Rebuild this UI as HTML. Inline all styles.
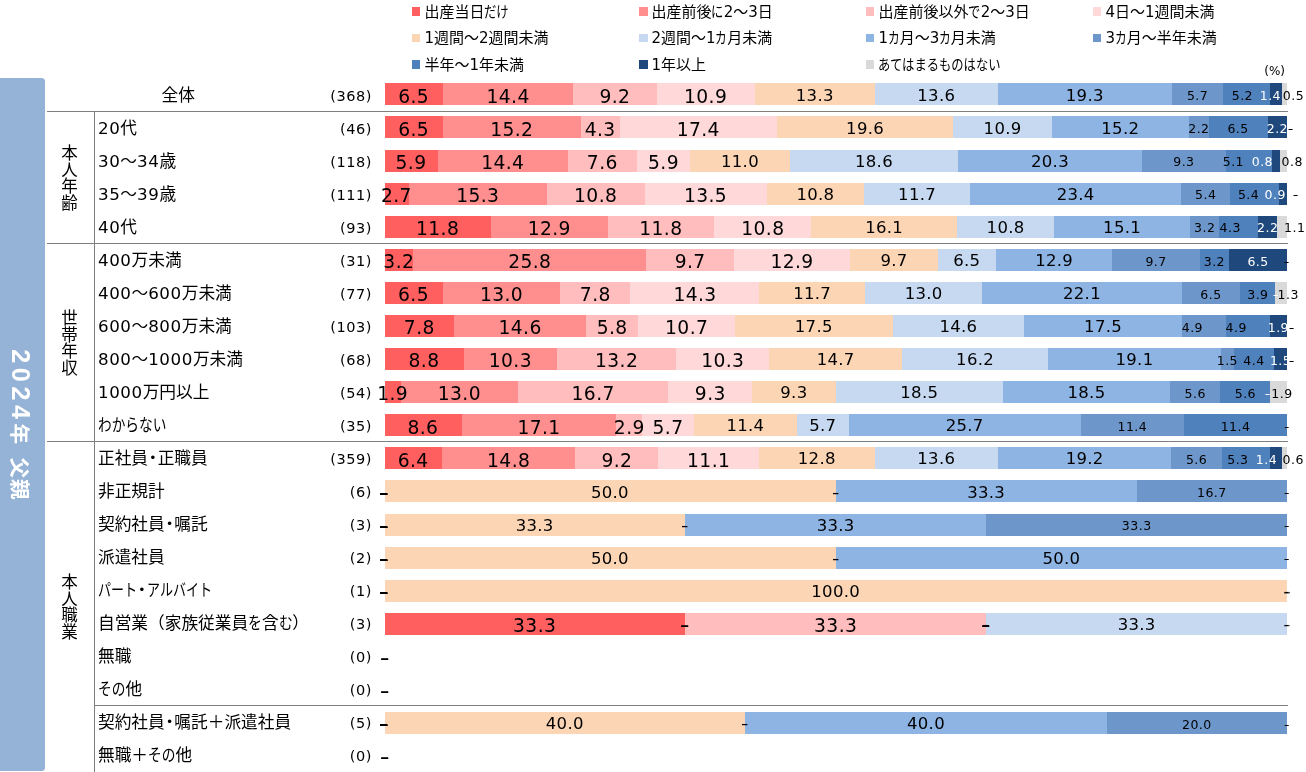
<!DOCTYPE html>
<html lang="ja"><head><meta charset="utf-8"><title>2024年 父親</title>
<style>
html,body{margin:0;padding:0;background:#fff}
#c{position:relative;width:1306px;height:772px;overflow:hidden;background:#fff;font-family:"DejaVu Sans","Liberation Sans","Noto Sans CJK JP",sans-serif;color:#000}
#c>*{position:absolute;white-space:nowrap;line-height:1}
.s{height:22px}
.l{transform:translate(-50%,-50%)}
.w{color:#fff}
.ds{transform:translate(-50%,-50%) scaleX(1.25)}
.dh{transform:translate(-50%,-50%) scaleX(1.4);text-shadow:0 .6px 0 #000}
.db{transform:translate(-50%,-50%) scaleX(1.4);text-shadow:0 .5px 0 #000}
.hl{height:1px;background:#7f7f7f}
.vl{width:1px;background:#7f7f7f}
.rl{left:98px;font-size:16.7px;transform:translateY(-50%);font-family:"DejaVu Sans","Noto Sans CJK JP",sans-serif}
.n{right:934px;font-size:14.5px;letter-spacing:.55px;transform:translateY(-50%)}
.g{font-size:16.5px;line-height:16.7px !important;width:17px;text-align:center;white-space:normal !important;transform:translate(-50%,-50%);font-family:"Noto Sans CJK JP",sans-serif}
.lg{font-size:15px;transform:translateY(-50%);font-family:"DejaVu Sans","Noto Sans CJK JP",sans-serif}
.lm{width:8px;height:8px}
.d{display:inline-block}
.k{display:inline-block;transform:scaleX(.78);transform-origin:0 50%}
.dg{letter-spacing:.55px}


.c0{background:#FF5F5F}
.c1{background:#FF8F8F}
.c2{background:#FFBDBD}
.c3{background:#FFD9D9}
.c4{background:#FCD5B4}
.c5{background:#C6D9F1}
.c6{background:#8EB4E3}
.c7{background:#6D97CB}
.c8{background:#4F81BD}
.c9{background:#1F497D}
.c10{background:#D9D9D9}
.f0{font-size:18.7px;letter-spacing:.4px}.f1{font-size:16.5px;letter-spacing:.3px}.f2{font-size:12.5px;letter-spacing:.5px}
</style></head><body><div id="c">
<div style="left:0;top:78px;width:45px;height:693px;background:#95B3D7;border-radius:0 3.5px 3.5px 0"></div>
<div id="ttl" style="left:20px;top:425.3px;word-spacing:5.2px;color:#fff;font-weight:bold;font-family:'Liberation Sans','Noto Sans CJK JP',sans-serif;font-size:20.5px;letter-spacing:1.2px;transform:translate(-50%,-50%) rotate(90deg)"><span class="d" style="font-size:25px;letter-spacing:4.7px">2024</span>年 父親</div>
<div class="hl" style="left:47px;top:111px;width:1241px"></div>
<div class="hl" style="left:47px;top:243px;width:1241px"></div>
<div class="hl" style="left:47px;top:441px;width:1241px"></div>
<div class="hl" style="left:94px;top:705px;width:1194px"></div>
<div class="vl" style="left:94px;top:111px;height:661px"></div>
<div class="g" style="left:69.5px;top:177px">本人年齢</div>
<div class="g" style="left:69.5px;top:342px">世帯年収</div>
<div class="g" style="left:69.5px;top:606px">本人職業</div>
<div class="lm c0" style="left:412px;top:7px;width:8px;height:9px"></div><div class="lg" style="left:424.4px;top:12px">出産当日<span class="k" style="width:24.6px;transform:scaleX(0.82)">だけ</span></div>
<div class="lm c1" style="left:639px;top:7px;width:9px;height:9px"></div><div class="lg" style="left:651.4px;top:12px">出産前後<span class="k" style="width:12.3px;transform:scaleX(0.82)">に</span>2～3日</div>
<div class="lm c2" style="left:866px;top:7px;width:8px;height:9px"></div><div class="lg" style="left:878.4px;top:12px">出産前後以外<span class="k" style="width:12.3px;transform:scaleX(0.82)">で</span>2～3日</div>
<div class="lm c3" style="left:1093px;top:7px;width:8px;height:9px"></div><div class="lg" style="left:1105.4px;top:12px">4日～1週間未満</div>
<div class="lm c4" style="left:412px;top:34px;width:8px;height:8px"></div><div class="lg" style="left:424.4px;top:38.3px">1週間～2週間未満</div>
<div class="lm c5" style="left:639px;top:34px;width:9px;height:8px"></div><div class="lg" style="left:651.4px;top:38.3px">2週間～1<span class="k" style="width:11.7px;transform:scaleX(0.78)">カ</span>月未満</div>
<div class="lm c6" style="left:866px;top:34px;width:8px;height:8px"></div><div class="lg" style="left:878.4px;top:38.3px">1<span class="k" style="width:11.7px;transform:scaleX(0.78)">カ</span>月～3<span class="k" style="width:11.7px;transform:scaleX(0.78)">カ</span>月未満</div>
<div class="lm c7" style="left:1093px;top:34px;width:8px;height:8px"></div><div class="lg" style="left:1105.4px;top:38.3px">3<span class="k" style="width:11.7px;transform:scaleX(0.78)">カ</span>月～半年未満</div>
<div class="lm c8" style="left:412px;top:60px;width:8px;height:9px"></div><div class="lg" style="left:424.4px;top:64.6px">半年～1年未満</div>
<div class="lm c9" style="left:639px;top:60px;width:9px;height:9px"></div><div class="lg" style="left:651.4px;top:64.6px">1年以上</div>
<div class="lm c10" style="left:866px;top:60px;width:8px;height:9px"></div><div class="lg" style="left:878.4px;top:64.6px"><span class="k" style="width:123.0px;transform:scaleX(0.82)">あてはまるものはない</span></div>
<div style="left:1274.6px;top:71.4px;font-size:12px;transform:translate(-50%,-50%)">(%)</div>
<div class="rl" style="left:161.5px;top:94.9px">全体</div>
<div class="n" style="top:95.55px">(368)</div>
<div class="s c0" style="left:385px;top:83px;width:58px"></div>
<div class="s c1" style="left:443px;top:83px;width:130px"></div>
<div class="s c2" style="left:573px;top:83px;width:84px"></div>
<div class="s c3" style="left:657px;top:83px;width:98px"></div>
<div class="s c4" style="left:755px;top:83px;width:120px"></div>
<div class="s c5" style="left:875px;top:83px;width:123px"></div>
<div class="s c6" style="left:998px;top:83px;width:174px"></div>
<div class="s c7" style="left:1172px;top:83px;width:51px"></div>
<div class="s c8" style="left:1223px;top:83px;width:47px"></div>
<div class="s c9" style="left:1270px;top:83px;width:12px"></div>
<div class="s c10" style="left:1282px;top:83px;width:5px"></div>
<div class="l f0" style="left:413.6px;top:96.7px">6.5</div>
<div class="l f0" style="left:508.1px;top:96.7px">14.4</div>
<div class="l f0" style="left:614.9px;top:96.7px">9.2</div>
<div class="l f0" style="left:705.6px;top:96.7px">10.9</div>
<div class="l f1" style="left:814.8px;top:95.5px">13.3</div>
<div class="l f1" style="left:936.3px;top:95.5px">13.6</div>
<div class="l f1" style="left:1084.8px;top:95.5px">19.3</div>
<div class="l f2" style="left:1197.6px;top:96.1px">5.7</div>
<div class="l f2" style="left:1242.4px;top:96.1px">5.2</div>
<div class="l f2 w" style="left:1270.4px;top:96.1px">1.4</div>
<div class="l f2" style="left:1293.5px;top:96.1px">0.5</div>
<div class="rl" style="top:127.95px"><span class="dg">20</span>代</div>
<div class="n" style="top:128.55px">(46)</div>
<div class="s c0" style="left:385px;top:116px;width:58px"></div>
<div class="s c1" style="left:443px;top:116px;width:138px"></div>
<div class="s c2" style="left:581px;top:116px;width:39px"></div>
<div class="s c3" style="left:620px;top:116px;width:157px"></div>
<div class="s c4" style="left:777px;top:116px;width:176px"></div>
<div class="s c5" style="left:953px;top:116px;width:99px"></div>
<div class="s c6" style="left:1052px;top:116px;width:137px"></div>
<div class="s c7" style="left:1189px;top:116px;width:20px"></div>
<div class="s c8" style="left:1209px;top:116px;width:59px"></div>
<div class="s c9" style="left:1268px;top:116px;width:19px"></div>
<div class="l f0" style="left:413.6px;top:129.8px">6.5</div>
<div class="l f0" style="left:511.8px;top:129.8px">15.2</div>
<div class="l f0" style="left:600.1px;top:129.8px">4.3</div>
<div class="l f0" style="left:698.3px;top:129.8px">17.4</div>
<div class="l f1" style="left:865.1px;top:128.6px">19.6</div>
<div class="l f1" style="left:1002.6px;top:128.6px">10.9</div>
<div class="l f1" style="left:1120.3px;top:128.6px">15.2</div>
<div class="l f2" style="left:1198.9px;top:129.2px">2.2</div>
<div class="l f2" style="left:1238.1px;top:129.2px">6.5</div>
<div class="l f2 w" style="left:1277.4px;top:129.2px">2.2</div>
<div class="l f2 ds" style="left:1290.7px;top:129.2px">-</div>
<div class="rl" style="top:160.95px"><span class="dg">30</span>～<span class="dg">34</span>歳</div>
<div class="n" style="top:161.55px">(118)</div>
<div class="s c0" style="left:385px;top:150px;width:53px"></div>
<div class="s c1" style="left:438px;top:150px;width:130px"></div>
<div class="s c2" style="left:568px;top:150px;width:69px"></div>
<div class="s c3" style="left:637px;top:150px;width:53px"></div>
<div class="s c4" style="left:690px;top:150px;width:100px"></div>
<div class="s c5" style="left:790px;top:150px;width:168px"></div>
<div class="s c6" style="left:958px;top:150px;width:184px"></div>
<div class="s c7" style="left:1142px;top:150px;width:84px"></div>
<div class="s c8" style="left:1226px;top:150px;width:46px"></div>
<div class="s c9" style="left:1272px;top:150px;width:8px"></div>
<div class="s c10" style="left:1280px;top:150px;width:7px"></div>
<div class="l f0" style="left:411px;top:162.9px">5.9</div>
<div class="l f0" style="left:502.8px;top:162.9px">14.4</div>
<div class="l f0" style="left:602.3px;top:162.9px">7.6</div>
<div class="l f0" style="left:663.5px;top:162.9px">5.9</div>
<div class="l f1" style="left:740px;top:161.7px">11.0</div>
<div class="l f1" style="left:874px;top:161.7px">18.6</div>
<div class="l f1" style="left:1050px;top:161.7px">20.3</div>
<div class="l f2" style="left:1183.9px;top:162.3px">9.3</div>
<div class="l f2" style="left:1233.4px;top:162.3px">5.1</div>
<div class="l f2 w" style="left:1262.4px;top:162.3px">0.8</div>
<div class="l f2" style="left:1292.2px;top:162.3px">0.8</div>
<div class="rl" style="top:193.95px"><span class="dg">35</span>～<span class="dg">39</span>歳</div>
<div class="n" style="top:194.55px">(111)</div>
<div class="s c0" style="left:385px;top:183px;width:24px"></div>
<div class="s c1" style="left:409px;top:183px;width:138px"></div>
<div class="s c2" style="left:547px;top:183px;width:98px"></div>
<div class="s c3" style="left:645px;top:183px;width:122px"></div>
<div class="s c4" style="left:767px;top:183px;width:97px"></div>
<div class="s c5" style="left:864px;top:183px;width:106px"></div>
<div class="s c6" style="left:970px;top:183px;width:211px"></div>
<div class="s c7" style="left:1181px;top:183px;width:49px"></div>
<div class="s c8" style="left:1230px;top:183px;width:49px"></div>
<div class="s c9" style="left:1279px;top:183px;width:8px"></div>
<div class="l f0" style="left:396.4px;top:195.9px">2.7</div>
<div class="l f0" style="left:477.8px;top:195.9px">15.3</div>
<div class="l f0" style="left:595.7px;top:195.9px">10.8</div>
<div class="l f0" style="left:705.5px;top:195.9px">13.5</div>
<div class="l f1" style="left:815.4px;top:194.7px">10.8</div>
<div class="l f1" style="left:917.1px;top:194.7px">11.7</div>
<div class="l f1" style="left:1075.7px;top:194.7px">23.4</div>
<div class="l f2" style="left:1205.8px;top:195.3px">5.4</div>
<div class="l f2" style="left:1248.6px;top:195.3px">5.4</div>
<div class="l f2 w" style="left:1275.3px;top:195.3px">0.9</div>
<div class="l f2 ds" style="left:1296.2px;top:195.3px">-</div>
<div class="rl" style="top:226.95px"><span class="dg">40</span>代</div>
<div class="n" style="top:227.55px">(93)</div>
<div class="s c0" style="left:385px;top:216px;width:106px"></div>
<div class="s c1" style="left:491px;top:216px;width:117px"></div>
<div class="s c2" style="left:608px;top:216px;width:106px"></div>
<div class="s c3" style="left:714px;top:216px;width:97px"></div>
<div class="s c4" style="left:811px;top:216px;width:146px"></div>
<div class="s c5" style="left:957px;top:216px;width:97px"></div>
<div class="s c6" style="left:1054px;top:216px;width:136px"></div>
<div class="s c7" style="left:1190px;top:216px;width:29px"></div>
<div class="s c8" style="left:1219px;top:216px;width:39px"></div>
<div class="s c9" style="left:1258px;top:216px;width:19px"></div>
<div class="s c10" style="left:1277px;top:216px;width:10px"></div>
<div class="l f0" style="left:437.6px;top:229px">11.8</div>
<div class="l f0" style="left:549.3px;top:229px">12.9</div>
<div class="l f0" style="left:660.9px;top:229px">11.8</div>
<div class="l f0" style="left:762.9px;top:229px">10.8</div>
<div class="l f1" style="left:884.2px;top:227.8px">16.1</div>
<div class="l f1" style="left:1005.6px;top:227.8px">10.8</div>
<div class="l f1" style="left:1122.1px;top:227.8px">15.1</div>
<div class="l f2" style="left:1204.7px;top:228.4px">3.2</div>
<div class="l f2" style="left:1230.3px;top:228.4px">4.3</div>
<div class="l f2 w" style="left:1267.8px;top:228.4px">2.2</div>
<div class="l f2" style="left:1294.8px;top:228.4px">1.1</div>
<div class="rl" style="top:259.95px"><span class="dg">400</span>万未満</div>
<div class="n" style="top:260.55px">(31)</div>
<div class="s c0" style="left:385px;top:249px;width:28px"></div>
<div class="s c1" style="left:413px;top:249px;width:233px"></div>
<div class="s c2" style="left:646px;top:249px;width:88px"></div>
<div class="s c3" style="left:734px;top:249px;width:116px"></div>
<div class="s c4" style="left:850px;top:249px;width:88px"></div>
<div class="s c5" style="left:938px;top:249px;width:58px"></div>
<div class="s c6" style="left:996px;top:249px;width:116px"></div>
<div class="s c7" style="left:1112px;top:249px;width:88px"></div>
<div class="s c8" style="left:1200px;top:249px;width:29px"></div>
<div class="s c9" style="left:1229px;top:249px;width:58px"></div>
<div class="l f0" style="left:398.8px;top:262.1px">3.2</div>
<div class="l f0" style="left:529.8px;top:262.1px">25.8</div>
<div class="l f0" style="left:690.1px;top:262.1px">9.7</div>
<div class="l f0" style="left:792px;top:262.1px">12.9</div>
<div class="l f1" style="left:894px;top:260.9px">9.7</div>
<div class="l f1" style="left:966.8px;top:260.9px">6.5</div>
<div class="l f1" style="left:1054.2px;top:260.9px">12.9</div>
<div class="l f2" style="left:1156.1px;top:261.5px">9.7</div>
<div class="l f2" style="left:1214.4px;top:261.5px">3.2</div>
<div class="l f2 w" style="left:1258.1px;top:261.5px">6.5</div>
<div class="l f2 ds" style="left:1287.2px;top:261.5px">-</div>
<div class="rl" style="top:292.95px"><span class="dg">400</span>～<span class="dg">600</span>万未満</div>
<div class="n" style="top:293.55px">(77)</div>
<div class="s c0" style="left:385px;top:282px;width:58px"></div>
<div class="s c1" style="left:443px;top:282px;width:117px"></div>
<div class="s c2" style="left:560px;top:282px;width:70px"></div>
<div class="s c3" style="left:630px;top:282px;width:129px"></div>
<div class="s c4" style="left:759px;top:282px;width:106px"></div>
<div class="s c5" style="left:865px;top:282px;width:117px"></div>
<div class="s c6" style="left:982px;top:282px;width:200px"></div>
<div class="s c7" style="left:1182px;top:282px;width:58px"></div>
<div class="s c8" style="left:1240px;top:282px;width:35px"></div>
<div class="s c10" style="left:1275px;top:282px;width:12px"></div>
<div class="l f0" style="left:413.5px;top:295.2px">6.5</div>
<div class="l f0" style="left:501.5px;top:295.2px">13.0</div>
<div class="l f0" style="left:595.3px;top:295.2px">7.8</div>
<div class="l f0" style="left:695px;top:295.2px">14.3</div>
<div class="l f1" style="left:812.2px;top:294px">11.7</div>
<div class="l f1" style="left:923.7px;top:294px">13.0</div>
<div class="l f1" style="left:1082px;top:294px">22.1</div>
<div class="l f2" style="left:1211px;top:294.6px">6.5</div>
<div class="l f2" style="left:1257.9px;top:294.6px">3.9</div>
<div class="l f2 w ds" style="left:1275.5px;top:294.6px">-</div>
<div class="l f2" style="left:1288.3px;top:294.6px">1.3</div>
<div class="rl" style="top:325.95px"><span class="dg">600</span>～<span class="dg">800</span>万未満</div>
<div class="n" style="top:326.55px">(103)</div>
<div class="s c0" style="left:385px;top:315px;width:69px"></div>
<div class="s c1" style="left:454px;top:315px;width:132px"></div>
<div class="s c2" style="left:586px;top:315px;width:52px"></div>
<div class="s c3" style="left:638px;top:315px;width:97px"></div>
<div class="s c4" style="left:735px;top:315px;width:158px"></div>
<div class="s c5" style="left:893px;top:315px;width:131px"></div>
<div class="s c6" style="left:1024px;top:315px;width:158px"></div>
<div class="s c7" style="left:1182px;top:315px;width:44px"></div>
<div class="s c8" style="left:1226px;top:315px;width:44px"></div>
<div class="s c9" style="left:1270px;top:315px;width:17px"></div>
<div class="l f0" style="left:419.3px;top:328.3px">7.8</div>
<div class="l f0" style="left:520.1px;top:328.3px">14.6</div>
<div class="l f0" style="left:612.1px;top:328.3px">5.8</div>
<div class="l f0" style="left:686.7px;top:328.3px">10.7</div>
<div class="l f1" style="left:813.8px;top:327.1px">17.5</div>
<div class="l f1" style="left:958.4px;top:327.1px">14.6</div>
<div class="l f1" style="left:1103.1px;top:327.1px">17.5</div>
<div class="l f2" style="left:1192.4px;top:327.7px">4.9</div>
<div class="l f2" style="left:1236.2px;top:327.7px">4.9</div>
<div class="l f2 w" style="left:1278.4px;top:327.7px">1.9</div>
<div class="l f2 ds" style="left:1292.4px;top:327.7px">-</div>
<div class="rl" style="top:358.95px"><span class="dg">800</span>～<span class="dg">1000</span>万未満</div>
<div class="n" style="top:359.55px">(68)</div>
<div class="s c0" style="left:385px;top:348px;width:79px"></div>
<div class="s c1" style="left:464px;top:348px;width:93px"></div>
<div class="s c2" style="left:557px;top:348px;width:119px"></div>
<div class="s c3" style="left:676px;top:348px;width:93px"></div>
<div class="s c4" style="left:769px;top:348px;width:133px"></div>
<div class="s c5" style="left:902px;top:348px;width:146px"></div>
<div class="s c6" style="left:1048px;top:348px;width:173px"></div>
<div class="s c7" style="left:1221px;top:348px;width:13px"></div>
<div class="s c8" style="left:1234px;top:348px;width:40px"></div>
<div class="s c9" style="left:1274px;top:348px;width:13px"></div>
<div class="l f0" style="left:424px;top:361.3px">8.8</div>
<div class="l f0" style="left:510.4px;top:361.3px">10.3</div>
<div class="l f0" style="left:616.6px;top:361.3px">13.2</div>
<div class="l f0" style="left:722.8px;top:361.3px">10.3</div>
<div class="l f1" style="left:835.7px;top:360.1px">14.7</div>
<div class="l f1" style="left:975.1px;top:360.1px">16.2</div>
<div class="l f1" style="left:1134.5px;top:360.1px">19.1</div>
<div class="l f2" style="left:1227.4px;top:360.7px">1.5</div>
<div class="l f2" style="left:1254px;top:360.7px">4.4</div>
<div class="l f2 w" style="left:1280.6px;top:360.7px">1.5</div>
<div class="l f2 ds" style="left:1292.4px;top:360.7px">-</div>
<div class="rl" style="top:391.95px"><span class="dg">1000</span>万円以上</div>
<div class="n" style="top:392.55px">(54)</div>
<div class="s c0" style="left:385px;top:381px;width:16px"></div>
<div class="s c1" style="left:401px;top:381px;width:117px"></div>
<div class="s c2" style="left:518px;top:381px;width:150px"></div>
<div class="s c3" style="left:668px;top:381px;width:84px"></div>
<div class="s c4" style="left:752px;top:381px;width:84px"></div>
<div class="s c5" style="left:836px;top:381px;width:167px"></div>
<div class="s c6" style="left:1003px;top:381px;width:167px"></div>
<div class="s c7" style="left:1170px;top:381px;width:50px"></div>
<div class="s c8" style="left:1220px;top:381px;width:50px"></div>
<div class="s c10" style="left:1270px;top:381px;width:17px"></div>
<div class="l f0" style="left:392.6px;top:394.4px">1.9</div>
<div class="l f0" style="left:459.4px;top:394.4px">13.0</div>
<div class="l f0" style="left:593.2px;top:394.4px">16.7</div>
<div class="l f0" style="left:710.3px;top:394.4px">9.3</div>
<div class="l f1" style="left:793.9px;top:393.2px">9.3</div>
<div class="l f1" style="left:919.3px;top:393.2px">18.5</div>
<div class="l f1" style="left:1086.5px;top:393.2px">18.5</div>
<div class="l f2" style="left:1195.2px;top:393.8px">5.6</div>
<div class="l f2" style="left:1245.4px;top:393.8px">5.6</div>
<div class="l f2 w ds" style="left:1268px;top:393.8px">-</div>
<div class="l f2" style="left:1282px;top:393.8px">1.9</div>
<div class="rl" style="top:424.95px"><span class="k" style="width:68.5px;transform:scaleX(0.82)">わからない</span></div>
<div class="n" style="top:425.55px">(35)</div>
<div class="s c0" style="left:385px;top:414px;width:77px"></div>
<div class="s c1" style="left:462px;top:414px;width:154px"></div>
<div class="s c2" style="left:616px;top:414px;width:26px"></div>
<div class="s c3" style="left:642px;top:414px;width:52px"></div>
<div class="s c4" style="left:694px;top:414px;width:103px"></div>
<div class="s c5" style="left:797px;top:414px;width:52px"></div>
<div class="s c6" style="left:849px;top:414px;width:232px"></div>
<div class="s c7" style="left:1081px;top:414px;width:103px"></div>
<div class="s c8" style="left:1184px;top:414px;width:103px"></div>
<div class="l f0" style="left:422.9px;top:427.5px">8.6</div>
<div class="l f0" style="left:539px;top:427.5px">17.1</div>
<div class="l f0" style="left:629.3px;top:427.5px">2.9</div>
<div class="l f0" style="left:668px;top:427.5px">5.7</div>
<div class="l f1" style="left:745.4px;top:426.3px">11.4</div>
<div class="l f1" style="left:822.8px;top:426.3px">5.7</div>
<div class="l f1" style="left:964.7px;top:426.3px">25.7</div>
<div class="l f2" style="left:1132.4px;top:426.9px">11.4</div>
<div class="l f2" style="left:1235.6px;top:426.9px">11.4</div>
<div class="l f2 w ds" style="left:1287.2px;top:426.9px">-</div>
<div class="l f2 ds" style="left:1287.2px;top:426.9px">-</div>
<div class="rl" style="top:457.95px">正社員<span class="k" style="width:9.6px;transform:none;text-indent:-3.5px">・</span>正職員</div>
<div class="n" style="top:458.55px">(359)</div>
<div class="s c0" style="left:385px;top:447px;width:57px"></div>
<div class="s c1" style="left:442px;top:447px;width:133px"></div>
<div class="s c2" style="left:575px;top:447px;width:83px"></div>
<div class="s c3" style="left:658px;top:447px;width:101px"></div>
<div class="s c4" style="left:759px;top:447px;width:116px"></div>
<div class="s c5" style="left:875px;top:447px;width:123px"></div>
<div class="s c6" style="left:998px;top:447px;width:173px"></div>
<div class="s c7" style="left:1171px;top:447px;width:51px"></div>
<div class="s c8" style="left:1222px;top:447px;width:48px"></div>
<div class="s c9" style="left:1270px;top:447px;width:12px"></div>
<div class="s c10" style="left:1282px;top:447px;width:5px"></div>
<div class="l f0" style="left:413.1px;top:460.6px">6.4</div>
<div class="l f0" style="left:508.7px;top:460.6px">14.8</div>
<div class="l f0" style="left:616.9px;top:460.6px">9.2</div>
<div class="l f0" style="left:708.7px;top:460.6px">11.1</div>
<div class="l f1" style="left:816.8px;top:459.4px">12.8</div>
<div class="l f1" style="left:936.3px;top:459.4px">13.6</div>
<div class="l f1" style="left:1084.7px;top:459.4px">19.2</div>
<div class="l f2" style="left:1196.6px;top:460px">5.6</div>
<div class="l f2" style="left:1237.9px;top:460px">5.3</div>
<div class="l f2 w" style="left:1266.5px;top:460px">1.4</div>
<div class="l f2" style="left:1293.3px;top:460px">0.6</div>
<div class="rl" style="top:490.95px">非正規計</div>
<div class="n" style="top:491.55px">(6)</div>
<div class="s c4" style="left:385px;top:480px;width:451px"></div>
<div class="s c6" style="left:836px;top:480px;width:301px"></div>
<div class="s c7" style="left:1137px;top:480px;width:150px"></div>
<div class="l f0 dh" style="left:384.2px;top:493.7px">-</div>
<div class="l f0 dh" style="left:384.2px;top:493.7px">-</div>
<div class="l f0 dh" style="left:384.2px;top:493.7px">-</div>
<div class="l f0 dh" style="left:384.2px;top:493.7px">-</div>
<div class="l f1" style="left:609.9px;top:492.5px">50.0</div>
<div class="l f1 ds" style="left:835.7px;top:492.5px">-</div>
<div class="l f1" style="left:986.2px;top:492.5px">33.3</div>
<div class="l f2" style="left:1211.9px;top:493.1px">16.7</div>
<div class="l f2 ds" style="left:1287.2px;top:493.1px">-</div>
<div class="l f2 w ds" style="left:1287.2px;top:493.1px">-</div>
<div class="l f2 ds" style="left:1287.2px;top:493.1px">-</div>
<div class="rl" style="top:523.95px">契約社員<span class="k" style="width:9.6px;transform:none;text-indent:-3.5px">・</span>嘱託</div>
<div class="n" style="top:524.55px">(3)</div>
<div class="s c4" style="left:385px;top:514px;width:300px"></div>
<div class="s c6" style="left:685px;top:514px;width:301px"></div>
<div class="s c7" style="left:986px;top:514px;width:301px"></div>
<div class="l f0 dh" style="left:384.2px;top:526.7px">-</div>
<div class="l f0 dh" style="left:384.2px;top:526.7px">-</div>
<div class="l f0 dh" style="left:384.2px;top:526.7px">-</div>
<div class="l f0 dh" style="left:384.2px;top:526.7px">-</div>
<div class="l f1" style="left:534.7px;top:525.5px">33.3</div>
<div class="l f1 ds" style="left:685.2px;top:525.5px">-</div>
<div class="l f1" style="left:835.7px;top:525.5px">33.3</div>
<div class="l f2" style="left:1136.7px;top:526.1px">33.3</div>
<div class="l f2 ds" style="left:1287.2px;top:526.1px">-</div>
<div class="l f2 w ds" style="left:1287.2px;top:526.1px">-</div>
<div class="l f2 ds" style="left:1287.2px;top:526.1px">-</div>
<div class="rl" style="top:556.95px">派遣社員</div>
<div class="n" style="top:557.55px">(2)</div>
<div class="s c4" style="left:385px;top:547px;width:451px"></div>
<div class="s c6" style="left:836px;top:547px;width:451px"></div>
<div class="l f0 dh" style="left:384.2px;top:559.8px">-</div>
<div class="l f0 dh" style="left:384.2px;top:559.8px">-</div>
<div class="l f0 dh" style="left:384.2px;top:559.8px">-</div>
<div class="l f0 dh" style="left:384.2px;top:559.8px">-</div>
<div class="l f1" style="left:609.9px;top:558.6px">50.0</div>
<div class="l f1 ds" style="left:835.7px;top:558.6px">-</div>
<div class="l f1" style="left:1061.4px;top:558.6px">50.0</div>
<div class="l f2 ds" style="left:1287.2px;top:559.2px">-</div>
<div class="l f2 ds" style="left:1287.2px;top:559.2px">-</div>
<div class="l f2 w ds" style="left:1287.2px;top:559.2px">-</div>
<div class="l f2 ds" style="left:1287.2px;top:559.2px">-</div>
<div class="rl" style="top:589.95px"><span class="k" style="width:39.1px;transform:scaleX(0.78)">パート</span><span class="k" style="width:9.6px;transform:none;text-indent:-3.5px">・</span><span class="k" style="width:65.1px;transform:scaleX(0.78)">アルバイト</span></div>
<div class="n" style="top:590.55px">(1)</div>
<div class="s c4" style="left:385px;top:580px;width:902px"></div>
<div class="l f0 dh" style="left:384.2px;top:592.9px">-</div>
<div class="l f0 dh" style="left:384.2px;top:592.9px">-</div>
<div class="l f0 dh" style="left:384.2px;top:592.9px">-</div>
<div class="l f0 dh" style="left:384.2px;top:592.9px">-</div>
<div class="l f1" style="left:835.7px;top:591.7px">100.0</div>
<div class="l f1 ds" style="left:1287.2px;top:591.7px">-</div>
<div class="l f1 ds" style="left:1287.2px;top:591.7px">-</div>
<div class="l f2 ds" style="left:1287.2px;top:592.3px">-</div>
<div class="l f2 ds" style="left:1287.2px;top:592.3px">-</div>
<div class="l f2 w ds" style="left:1287.2px;top:592.3px">-</div>
<div class="l f2 ds" style="left:1287.2px;top:592.3px">-</div>
<div class="rl" style="top:622.95px">自営業（家族従業員<span class="k" style="width:13.7px;transform:scaleX(0.82)">を</span>含<span class="k" style="width:13.7px;transform:scaleX(0.82)">む</span>）</div>
<div class="n" style="top:623.55px">(3)</div>
<div class="s c0" style="left:385px;top:613px;width:300px"></div>
<div class="s c2" style="left:685px;top:613px;width:301px"></div>
<div class="s c5" style="left:986px;top:613px;width:301px"></div>
<div class="l f0" style="left:534.7px;top:626px">33.3</div>
<div class="l f0 dh" style="left:685.2px;top:626px">-</div>
<div class="l f0" style="left:835.7px;top:626px">33.3</div>
<div class="l f0 dh" style="left:986.2px;top:626px">-</div>
<div class="l f1 ds" style="left:986.2px;top:624.8px">-</div>
<div class="l f1" style="left:1136.7px;top:624.8px">33.3</div>
<div class="l f1 ds" style="left:1287.2px;top:624.8px">-</div>
<div class="l f2 ds" style="left:1287.2px;top:625.4px">-</div>
<div class="l f2 ds" style="left:1287.2px;top:625.4px">-</div>
<div class="l f2 w ds" style="left:1287.2px;top:625.4px">-</div>
<div class="l f2 ds" style="left:1287.2px;top:625.4px">-</div>
<div class="rl" style="top:655.95px">無職</div>
<div class="n" style="top:656.55px">(0)</div>
<div class="l f0 db" style="left:384.7px;top:659.06px">-</div>
<div class="rl" style="top:688.95px"><span class="k" style="width:27.4px;transform:scaleX(0.82)">その</span>他</div>
<div class="n" style="top:689.55px">(0)</div>
<div class="l f0 db" style="left:384.7px;top:692.14px">-</div>
<div class="rl" style="top:721.95px">契約社員<span class="k" style="width:9.6px;transform:none;text-indent:-3.5px">・</span>嘱託＋派遣社員</div>
<div class="n" style="top:722.55px">(5)</div>
<div class="s c4" style="left:385px;top:712px;width:360px"></div>
<div class="s c6" style="left:745px;top:712px;width:362px"></div>
<div class="s c7" style="left:1107px;top:712px;width:180px"></div>
<div class="l f0 dh" style="left:384.2px;top:725.2px">-</div>
<div class="l f0 dh" style="left:384.2px;top:725.2px">-</div>
<div class="l f0 dh" style="left:384.2px;top:725.2px">-</div>
<div class="l f0 dh" style="left:384.2px;top:725.2px">-</div>
<div class="l f1" style="left:564.8px;top:724px">40.0</div>
<div class="l f1 ds" style="left:745.4px;top:724px">-</div>
<div class="l f1" style="left:926px;top:724px">40.0</div>
<div class="l f2" style="left:1196.9px;top:724.6px">20.0</div>
<div class="l f2 ds" style="left:1287.2px;top:724.6px">-</div>
<div class="l f2 w ds" style="left:1287.2px;top:724.6px">-</div>
<div class="l f2 ds" style="left:1287.2px;top:724.6px">-</div>
<div class="rl" style="top:754.95px">無職＋<span class="k" style="width:27.4px;transform:scaleX(0.82)">その</span>他</div>
<div class="n" style="top:755.55px">(0)</div>
<div class="l f0 db" style="left:384.7px;top:758.3px">-</div>
</div></body></html>
